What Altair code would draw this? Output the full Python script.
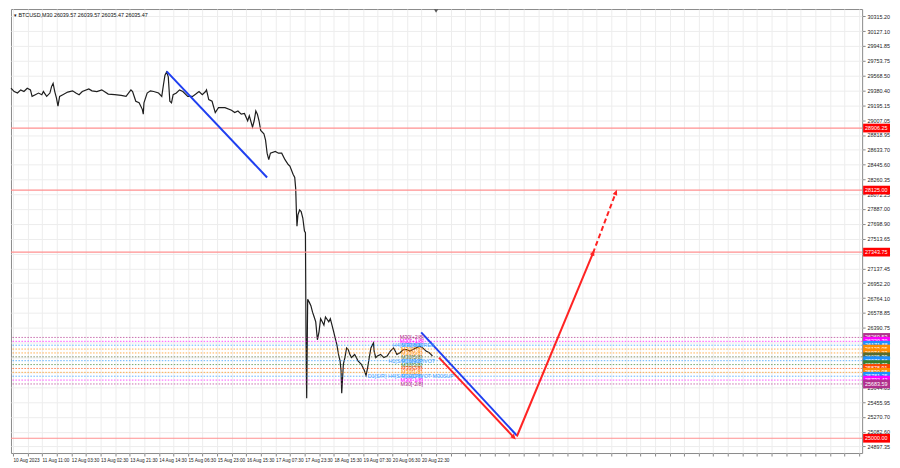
import json
import altair as alt
import pandas as pd

TITLE = "\u25BE BTCUSD,M30  26039.57 26039.57 26035.47 26035.47"
FONT = "Liberation Sans"
FS = 5.4
FSX = 4.7
W, H = 855, 446

# ---- price series (chart slot, price) ----
price_slot = [0, 3.3, 6.7, 10, 13.3, 16.7, 20, 21.7, 25, 28.3, 31.7, 33.3, 36.7, 40, 41.7, 43.3, 45, 46.7, 48.3, 50,
              53.3, 58.3, 63.3, 66.7, 70, 73.3, 80, 83.3, 88.3, 93.3, 100, 106.7, 113.3, 118.3, 123.3, 125, 128.3, 131.7, 135, 136,
              136.7, 140, 143.3, 146.7, 151.7, 155, 156.7, 158.3, 160, 161.7, 163.3, 165, 166.7, 170, 173.3, 176.7, 181.7, 186.7, 190, 193.3,
              196.7, 200, 201, 203.3, 206.7, 210, 213.3, 220, 226.7, 230, 233.3, 236.7, 240, 243.3, 245, 248.3, 250, 251.7, 253.3, 255,
              256.7, 260, 261.7, 263.3, 265, 266.7, 271.7, 275, 278.3, 281.7, 285, 286.7, 290, 291.7, 292.7, 293.3, 294, 295, 296.7, 298.3,
              300, 301.7, 302.7, 303.3, 304, 305, 306.7, 308.3, 310, 311.7, 313.3, 315, 316.7, 318.3, 320, 321.7, 323.3, 326.7, 328.3, 330,
              331.7, 333.3, 335, 336.7, 338.3, 339.3, 340, 341.7, 343.3, 345, 346.7, 348.3, 350, 351.7, 353.3, 355, 356.7, 360, 361.7, 363.3,
              365, 366.7, 368.3, 370, 371.7, 372.7, 373.3, 375, 376.7, 380, 383.3, 386.7, 390, 393.3, 395, 396.7, 400, 403.3, 406.7, 410,
              413.3, 416.7, 420, 423.3, 426.7, 430, 431.7, 433.3]
price_value = [29408, 29366, 29347, 29387, 29366, 29408, 29387, 29305, 29326, 29347, 29326, 29366, 29305, 29347, 29428, 29469, 29366, 29285, 29182, 29305,
               29326, 29359, 29375, 29347, 29326, 29366, 29399, 29375, 29366, 29387, 29334, 29326, 29317, 29305, 29387, 29366, 29244, 29224, 29142, 29081,
               29224, 29347, 29375, 29366, 29347, 29305, 29448, 29571, 29612, 29550, 29244, 29224, 29326, 29347, 29387, 29366, 29305, 29305, 29334, 29366,
               29326, 29366, 29387, 29265, 29244, 29101, 29163, 29163, 29130, 29101, 29121, 29081, 29089, 28998, 29060, 28918, 28998, 29121, 29081, 28998,
               28876, 28835, 28753, 28590, 28508, 28590, 28611, 28590, 28590, 28508, 28447, 28427, 28324, 28284, 28140, 27895, 27671, 27814, 27875, 27855,
               27773, 27609, 27589, 26301, 25504, 26751, 26711, 26669, 26588, 26527, 26466, 26240, 26343, 26506, 26466, 26424, 26527, 26466, 26506, 26424,
               26343, 26261, 26179, 26056, 25975, 25853, 25566, 25934, 26016, 26138, 26117, 26056, 26016, 26036, 26056, 26016, 25975, 25934, 25893, 25853,
               25791, 25893, 26016, 26138, 26179, 26200, 26098, 26016, 26036, 26056, 26016, 26036, 26098, 26138, 26098, 26056, 26077, 26117, 26117, 26098,
               26117, 26138, 26159, 26138, 26098, 26077, 26056, 26036]

# ---- axes ----
x_labels = ["10 Aug 2023", "11 Aug 11:00", "12 Aug 03:30", "13 Aug 02:30", "13 Aug 21:30", "14 Aug 14:30",
            "15 Aug 06:30", "15 Aug 23:00", "16 Aug 15:30", "17 Aug 07:30", "17 Aug 23:30", "18 Aug 15:30",
            "19 Aug 07:30", "20 Aug 06:30", "20 Aug 22:30"]
x_grid_slots = list(range(2, 876, 15))
y_ticks = [30315.20, 30127.10, 29941.85, 29753.75, 29568.50, 29380.40, 29195.15, 29007.05, 28818.95, 28633.70,
           28445.60, 28260.35, 28072.25, 27887.00, 27698.90, 27513.65, 27325.55, 27137.45, 26952.20, 26764.10,
           26578.85, 26390.75, 26202.65, 26017.40, 25829.30, 25644.05, 25455.95, 25270.70, 25082.60, 24897.35]

# ---- levels ----
sr_levels = [28906.25, 28125.00, 27343.75, 25000.00]
mm_levels = [26269.53, 26220.70, 26171.88, 26123.05, 26074.22, 26025.39, 25976.56,
             25927.73, 25878.91, 25830.08, 25781.25, 25732.42, 25683.59]
mm_names = ["M30[+2/8]", "M30[+1/8]", "M30[8/8]", "M30[7/8]", "M30[6/8]", "M30[5/8]", "M30[4/8]",
            "M30[3/8]", "M30[2/8]", "M30[1/8]", "M30[0/8]", "M30[-1/8]", "M30[-2/8]"]
mm_colors = ["#b0308c", "#ff00ff", "#1e90ff", "#ff8c00", "#ff8c00", "#556b2f", "#1e90ff",
             "#3a7d2c", "#ff4500", "#ff8c00", "#1e90ff", "#ff00ff", "#b0308c"]
sr_text = ["H4[S/R] M30RES", "H1[S/R] M30PIVOT", "D1[S/R] H4[S/R] H1PIVOT M30SUP"]
sr_text_level = [26171.88, 25976.56, 25781.25]
sr_text_slot = [414, 412, 411]
mm_text_slot = 412

# ---- drawn trend lines ----
blue1_slot, blue1_price = [160, 263.3], [29620, 28284]
blue2_slot, blue2_price = [421.7, 520], [26334, 25035]
rdown_slot, rdown_price = [440, 516.7], [26016, 25014]
rup_slot, rup_price = [520, 598.3], [25022, 27331]
rdash_slot, rdash_price = [598.3, 621.7], [27331, 28091]
shift_marker_slot = [437]

xs = alt.Scale(domain=[0, 875], nice=False, zero=False)
ys = alt.Scale(domain=[24814, 30405], nice=False, zero=False)

label_expr = ("(datum.value - 2) % 30 == 0 && datum.value <= 422 ? "
              + json.dumps(x_labels) + "[(datum.value - 2) / 30] : ''")

x_axis = alt.Axis(values=x_grid_slots, labelExpr=label_expr, labelFontSize=FSX, labelFont=FONT,
                  labelAlign="left", labelPadding=2, labelColor="#222", tickSize=3, tickColor="#888",
                  grid=True, gridColor="#ededed", domain=False, title=None, labelOverlap=False,
                  labelFlush=False, labelBound=False, zindex=0)
y_axis = alt.Axis(orient="right", values=y_ticks, format=".2f", labelFontSize=FS, labelFont=FONT,
                  labelColor="#222", labelPadding=2, tickSize=3, tickColor="#888", grid=True,
                  gridColor="#ededed", domain=False, title=None, labelOverlap=False, labelFlush=False,
                  labelBound=False, zindex=0)


def X(f="slot"):
    return alt.X(f + ":Q", scale=xs, axis=x_axis)


def Y(f="price"):
    return alt.Y(f + ":Q", scale=ys, axis=y_axis)


price_df = pd.DataFrame({"slot": price_slot, "price": price_value})
price = alt.Chart(price_df).mark_line(color="#1e1e1e", strokeWidth=1.2).encode(x=X(), y=Y())

mm_df = pd.DataFrame({"level": mm_levels, "color": mm_colors, "name": mm_names,
                      "label": [f"{v:.2f}" for v in mm_levels],
                      "top": [v + 55 for v in mm_levels], "bot": [v - 55 for v in mm_levels],
                      "slot": [mm_text_slot] * len(mm_levels)})
mm_lines = alt.Chart(mm_df).mark_rule(strokeDash=[1.5, 1.5], strokeWidth=1, opacity=0.7).encode(
    y=Y("level"), color=alt.Color("color:N", scale=None))

sr_df = pd.DataFrame({"level": sr_levels, "label": [f"{v:.2f}" for v in sr_levels],
                      "top": [v + 55 for v in sr_levels], "bot": [v - 55 for v in sr_levels]})
sr_lines = alt.Chart(sr_df).mark_rule(color="#ff9090", strokeWidth=1.2).encode(y=Y("level"))


def seg(sl, pr, color, dash=None):
    d = pd.DataFrame({"slot": sl, "price": pr})
    kw = dict(color=color, strokeWidth=2)
    if dash:
        kw["strokeDash"] = dash
    return alt.Chart(d).mark_line(**kw).encode(x=X(), y=Y())


def head(sl, pr, angle, color):
    d = pd.DataFrame({"slot": [sl], "price": [pr]})
    return alt.Chart(d).mark_point(shape="M0,-1L0.75,0.7L-0.75,0.7Z", filled=True, size=42,
                                   color=color, opacity=1, angle=angle).encode(x=X(), y=Y())


lines = [
    seg(blue1_slot, blue1_price, "#1f3ff0"),
    seg(blue2_slot, blue2_price, "#1f3ff0"),
    seg(rdown_slot, rdown_price, "#ff2323"),
    seg(rup_slot, rup_price, "#ff2323"),
    seg(rdash_slot, rdash_price, "#ff2323", [5, 3]),
    head(rdown_slot[1], rdown_price[1], 137, "#ff2323"),
    head(rup_slot[1], rup_price[1], 23, "#ff2323"),
    head(rdash_slot[1], rdash_price[1], 21, "#ff2323"),
]

mm_txt = alt.Chart(mm_df).mark_text(fontSize=FS, font=FONT, align="center", baseline="middle").encode(
    x=X(), y=Y("level"), text="name:N", color=alt.Color("color:N", scale=None))
srt_df = pd.DataFrame({"slot": sr_text_slot, "level": sr_text_level, "t": sr_text})
sr_txt = alt.Chart(srt_df).mark_text(fontSize=FS, font=FONT, align="center", baseline="middle",
                                     color="#3f9fff").encode(x=X(), y=Y("level"), text="t:N")

# axis price tags (red S/R, then Murrey levels stacked top->bottom)
TAG_L, TAG_R = W + 1, W + 28
tag_layers = []
for i in range(len(sr_levels)):
    d = sr_df.iloc[[i]]
    tag_layers.append(alt.Chart(d).mark_rect(color="#ff0000").encode(
        x=alt.value(TAG_L), x2=alt.value(TAG_R), y=Y("top"), y2=alt.Y2("bot:Q")))
    tag_layers.append(alt.Chart(d).mark_text(fontSize=FS, font=FONT, align="left", baseline="middle",
                                             color="white").encode(
        x=alt.value(TAG_L + 2), y=Y("level"), text="label:N"))
for i in range(len(mm_levels)):
    d = mm_df.iloc[[i]]
    tag_layers.append(alt.Chart(d).mark_rect().encode(
        x=alt.value(TAG_L), x2=alt.value(TAG_R), y=Y("top"), y2=alt.Y2("bot:Q"),
        color=alt.Color("color:N", scale=None)))
    tag_layers.append(alt.Chart(d).mark_text(fontSize=FS, font=FONT, align="left", baseline="middle",
                                             color="white").encode(
        x=alt.value(TAG_L + 2), y=Y("level"), text="label:N"))

title = alt.Chart(pd.DataFrame({"t": [TITLE]})).mark_text(
    fontSize=FS, font=FONT, align="left", baseline="middle", color="#111").encode(
    x=alt.value(3), y=alt.value(6), text="t:N")
marker = alt.Chart(pd.DataFrame({"slot": shift_marker_slot})).mark_point(
    shape="triangle-down", filled=True, size=18, color="#555", opacity=1).encode(x=X(), y=alt.value(2))

chart = alt.layer(price, mm_lines, sr_lines, *lines, mm_txt, sr_txt, *tag_layers, title, marker).properties(
    width=W, height=H, padding={"left": 0, "top": 0, "right": 2, "bottom": 2}, background="white"
).configure_view(stroke="#8a8a8a", strokeWidth=1)

chart.save("out.html", embed_options={"renderer": "svg", "actions": False})
